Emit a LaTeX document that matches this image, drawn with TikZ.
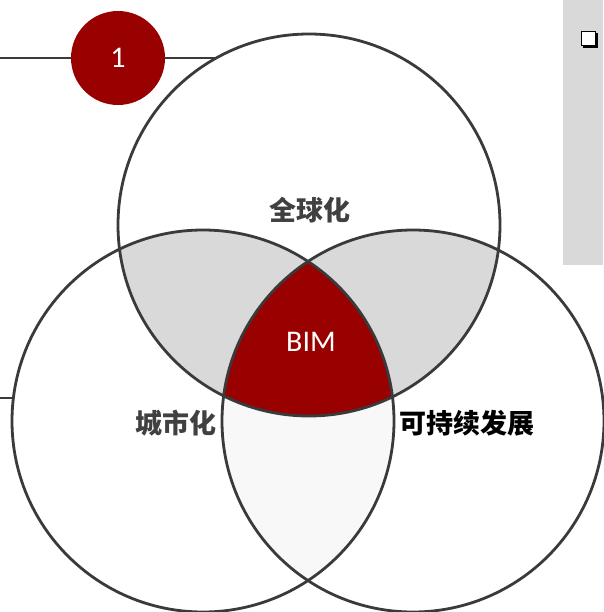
\documentclass[tikz,border=0pt]{standalone}
\usepackage{fontspec}
\newfontfamily\cjk{Noto Sans CJK SC}
\newfontfamily\lat{Carlito}
\definecolor{ring}{HTML}{3A3A3A}
\definecolor{lensgray}{HTML}{D9D9D9}
\definecolor{lenslight}{HTML}{F8F8F8}
\definecolor{bimred}{HTML}{990000}
\definecolor{txtgray}{HTML}{404040}
\begin{document}
\begin{tikzpicture}[x=1pt,y=-1pt,
  ringline/.style={draw=ring,line width=2.8pt},
  lbl/.style={font=\cjk\bfseries\fontsize{27}{31}\selectfont,inner sep=0pt}]
\useasboundingbox (0,0) rectangle (603,612);
\coordinate (ct) at (309,225);
\coordinate (cl) at (203,421);
\coordinate (cr) at (413,421);
\def\R{191}
% side panel
\fill[lensgray] (563,0) rectangle (603,265);
\fill[black] (583,33) rectangle (598,48);
\draw[black,fill=white,line width=0.9pt] (581,31) rectangle (595,45);
% connector lines
\coordinate (lineA) at (0,58);
\coordinate (lineB) at (217,58);
\coordinate (lineC) at (0,398);
\coordinate (lineD) at (14,398);
\draw[ring,line width=2.8pt] (lineA) -- (lineB);
\draw[ring,line width=2.8pt] (lineC) -- (lineD);
% fills
\begin{scope}
  \clip (ct) circle (\R);
  \fill[lensgray] (cl) circle (\R);
  \fill[lensgray] (cr) circle (\R);
\end{scope}
\begin{scope}
  \clip (cl) circle (\R);
  \fill[lenslight] (cr) circle (\R);
\end{scope}
\begin{scope}
  \clip (ct) circle (\R);
  \clip (cl) circle (\R);
  \fill[bimred] (cr) circle (\R);
\end{scope}
% outlines
\draw[ringline] (ct) circle (\R);
\draw[ringline] (cl) circle (\R);
\draw[ringline] (cr) circle (\R);
% badge
\node[circle,fill=bimred,minimum size=94pt,inner sep=0pt,text=white,font=\lat\fontsize{30}{34}\selectfont] (badge) at (118,58) {1};
% labels
\node[lbl,text=txtgray] (glob) at (310,210) {全球化};
\node[lbl,text=txtgray] (urban) at (176,423) {城市化};
\node[lbl,text=black] (sust) at (467,423) {可持续发展};
\node[font=\lat\fontsize{30}{34}\selectfont,text=white] (bim) at (311,342) {BIM};
\end{tikzpicture}
\end{document}
